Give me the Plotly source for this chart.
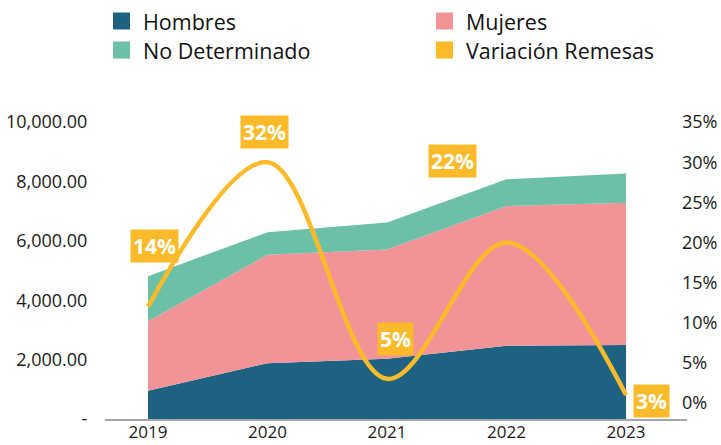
import plotly.graph_objects as go

# Remittance amounts by sex (left axis) and yearly variation (right axis, %)
years = [2019, 2020, 2021, 2022, 2023]
hombres = [950, 1880, 2030, 2470, 2490]
mujeres = [2340, 3650, 3680, 4700, 4790]
no_determinado = [1520, 760, 910, 900, 990]
variacion = [14, 32, 5, 22, 3]
variacion_labels = ["14%", "32%", "5%", "22%", "3%"]

series_names = ["Hombres", "Mujeres", "No Determinado", "Variación Remesas"]
colors = ["#1E6282", "#F29398", "#6CC0A8", "#FBBA2A"]

left_ticks = [0, 2000, 4000, 6000, 8000, 10000]
left_ticktext = ["-", "2,000.00", "4,000.00", "6,000.00", "8,000.00", "10,000.00"]
right_ticks = [0, 5, 10, 15, 20, 25, 30, 35]
right_ticktext = [f"{v}%" for v in right_ticks]

FONT = "Open Sans"
W, H = 721, 445
L, R, T, B = 105, 34, 122, 26
PW, PH = W - L - R, H - T - B


def px_x(px):
    return (px - L) / PW


def px_y(py):
    return (H - B - py) / PH


fig = go.Figure()

for name, vals, col in zip(series_names[:3], [hombres, mujeres, no_determinado], colors[:3]):
    fig.add_trace(go.Scatter(
        x=years, y=vals, name=name, mode="none", stackgroup="remesas",
        fillcolor=col, line=dict(width=0), showlegend=False,
    ))

fig.add_trace(go.Scatter(
    x=years, y=variacion, name=series_names[3], mode="lines", yaxis="y2",
    line=dict(color=colors[3], width=4.5, shape="spline", smoothing=1.0),
    showlegend=False,
))

# value labels for the variation line
label_offsets = [(6, 61), (-3, 30), (8, 40), (-54, 81), (25, -6)]
for yr, v, txt, (dx, dy) in zip(years, variacion, variacion_labels, label_offsets):
    fig.add_annotation(
        x=yr, y=v, xref="x", yref="y2", text=f"<b>{txt}</b>", showarrow=False,
        xshift=dx, yshift=dy, bgcolor=colors[3], borderpad=2,
        font=dict(family=FONT, size=21, color="white"),
    )

# legend: two columns, two rows
legend_pos = [(113, 21), (436, 21), (113, 50), (436, 50)]
for name, col, (lx, ly) in zip(series_names, colors, legend_pos):
    fig.add_shape(
        type="rect", xref="paper", yref="paper",
        x0=px_x(lx), x1=px_x(lx + 17), y0=px_y(ly + 8.5), y1=px_y(ly - 8.5),
        fillcolor=col, line=dict(width=0),
    )
    fig.add_annotation(
        x=px_x(lx + 28), y=px_y(ly), xref="paper", yref="paper", text=name,
        showarrow=False, xanchor="left", yanchor="middle",
        font=dict(family=FONT, size=21.5, color="#111111"),
    )

fig.update_layout(
    width=W, height=H,
    margin=dict(l=L, r=R, t=T, b=B),
    paper_bgcolor="white", plot_bgcolor="white",
    font=dict(family=FONT, size=18, color="#1a1a1a"),
    showlegend=False,
    xaxis=dict(
        range=[2018.64, 2023.51], tickvals=years, ticktext=[str(y) for y in years],
        showgrid=False, zeroline=False, showline=True, linecolor="#A6A6A6", linewidth=2,
        ticks="", ticklabelstandoff=-3, tickfont=dict(size=17), automargin=False,
    ),
    yaxis=dict(
        range=[0, 10000], tickvals=left_ticks, ticktext=left_ticktext,
        showgrid=False, zeroline=False, showline=False,
        ticks="outside", ticklen=13, tickcolor="rgba(0,0,0,0)", automargin=False,
    ),
    yaxis2=dict(
        range=[0, 37], tickvals=right_ticks, ticktext=right_ticktext,
        overlaying="y", side="right", showgrid=False, zeroline=False, showline=False,
        ticklabelshift=-16, ticklabelstandoff=-6, automargin=False,
    ),
)

fig.write_html("out.html")
